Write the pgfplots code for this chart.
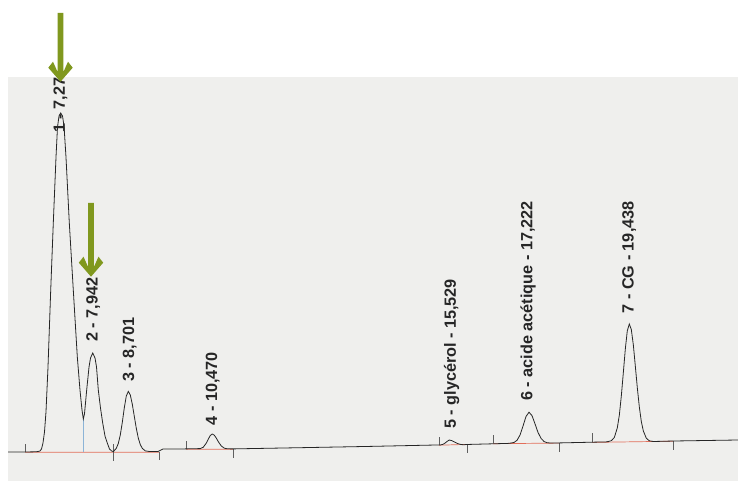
\documentclass[border=0pt]{standalone}
\usepackage{pgfplots}
\pgfplotsset{compat=1.18}
\usepackage{pgfplotstable}
\usepackage{fontspec}
\setmainfont{Liberation Sans}
\newfontfamily\lblfont{Liberation Sans}
\definecolor{paper}{RGB}{239,239,237}
\definecolor{arrowgreen}{RGB}{128,152,30}
\definecolor{tracec}{RGB}{38,38,38}
\definecolor{intred}{RGB}{226,110,90}
\definecolor{dropblue}{RGB}{140,180,215}
\definecolor{tickgray}{RGB}{95,95,95}

% retention time (min) / detector signal (arbitrary units)
\pgfplotstableread{
t s
6.123 0
6.486 0
6.721 0.2
6.763 0.5
6.806 1
6.838 3
6.870 9
6.902 20
6.934 40
6.977 85
7.035 162
7.090 229
7.148 295
7.180 325
7.212 336
7.248 339
7.287 336
7.319 326
7.361 295
7.432 229
7.517 162
7.603 95
7.660 62
7.703 42
7.731 33
7.756 38
7.803 62
7.853 85
7.885 94
7.932 99
7.981 94
8.013 85
8.051 62
8.098 44
8.145 29
8.194 16
8.243 9
8.290 3
8.337 1
8.376 0.4
8.393 1.5
8.436 3.7
8.478 8.5
8.521 17.1
8.564 29.7
8.606 44.1
8.649 56.0
8.692 60.6
8.734 57.1
8.777 47.8
8.820 35.6
8.863 23.6
8.905 13.9
8.948 7.4
8.991 3.6
9.055 1.1
9.155 0.4
9.326 0.5
9.433 3
9.796 3
10.229 3.4
10.293 4.8
10.357 8.9
10.400 12.9
10.443 16.5
10.485 18
10.528 16.8
10.571 13.9
10.614 10.3
10.678 6.0
10.742 3.8
10.806 3.2
10.927 3.1
12.358 4.3
13.853 5.6
15.363 7.1
15.412 7.7
15.455 8.9
15.497 10.5
15.546 12
15.604 11.3
15.668 9.7
15.732 8.3
15.796 7.5
15.860 7.2
15.903 7.5
16.800 8.6
16.864 8.95
16.928 9.55
16.992 11.7
17.056 16.9
17.120 25.9
17.184 35.5
17.248 39.8
17.312 36.4
17.376 28.2
17.440 19.6
17.505 13.6
17.569 10.5
17.633 9.3
17.718 8.9
17.910 9.1
18.893 10.1
18.942 10.5
19.006 11.3
19.070 14.5
19.134 24.2
19.177 36.9
19.219 55.8
19.262 79.2
19.305 103.1
19.347 121.2
19.390 128
19.433 122.4
19.476 107.1
19.518 86.1
19.561 64.2
19.604 45.0
19.646 30.6
19.689 21.1
19.753 13.8
19.817 11.2
19.903 10.5
20.345 11
21.711 12
}\tracedata

\begin{document}
\begin{tikzpicture}
\fill[white] (0,0) rectangle (738bp,481bp);
\fill[paper] (7.5bp,0) rectangle (738bp,404bp);
\begin{axis}[at={(0,0)}, anchor=south west, scale only axis,
  width=738bp, height=481bp,
  xmin=5.952, xmax=21.711, ymin=-29, ymax=452, hide axis]
% integration baselines
\addplot[intred, line width=0.7bp, unbounded coords=jump] coordinates {
 (6.486,-0.3) (9.347,-0.3) (9.347,nan)
 (9.924,2.8) (10.927,2.8) (10.927,nan)
 (15.326,6.8) (15.924,7.6) (15.924,nan)
 (16.480,8.3) (17.889,8.9) (17.889,nan)
 (18.594,9.6) (20.323,10.8)};
% drop line
\addplot[dropblue, line width=0.7bp] coordinates {(7.731,0) (7.731,33)};
% peak start / end marks
\addplot[tickgray, line width=0.6bp, unbounded coords=jump] coordinates {
 (6.486,0) (6.486,8) (6.486,nan)
 (9.924,3) (9.924,11) (9.924,nan)
 (15.326,7) (15.326,15) (15.326,nan)
 (16.480,8.5) (16.480,17) (16.480,nan)
 (18.594,9.8) (18.594,19) (18.594,nan)
 (8.365,8) (8.365,-9) (8.365,nan)
 (9.347,0) (9.347,-8) (9.347,nan)
 (10.927,3) (10.927,-6) (10.927,nan)
 (15.924,8) (15.924,-1) (15.924,nan)
 (17.889,9) (17.889,0) (17.889,nan)
 (20.323,11) (20.323,2)};
% chromatogram trace
\addplot[tracec, line width=0.8bp] table[x=t, y=s] {\tracedata};
% peak labels
\begin{scope}[every node/.style={rotate=90, anchor=west, inner sep=0pt, text=tracec,
  font=\lblfont\bfseries\fontsize{16.3}{18}\selectfont}]
\node at (axis cs:7.244,319) {1 - 7,276};
\node at (axis cs:7.942,110) {2 - 7,942};
\node at (axis cs:8.722,70) {3 - 8,701};
\node at (axis cs:10.494,26.5) {4 - 10,470};
\node at (axis cs:15.597,23) {5 - glycérol - 15,529};
\node at (axis cs:17.227,51) {6 - acide acétique - 17,222};
\node at (axis cs:19.388,138.5) {7 - CG - 19,438};
\end{scope}
\end{axis}
% white margin above the paper
\fill[white] (0,404bp) rectangle (738bp,481bp);
% green arrows
\begin{scope}[x=1bp, y=1bp]
\fill[arrowgreen] (60.5,399.3) -- (48.3,413.3) -- (53,419.3) -- (57.7,408.8) -- (57.7,468)
  -- (63.3,468) -- (63.3,408.8) -- (68,419.3) -- (72.7,413.3) -- cycle;
\fill[arrowgreen] (91,204.3) -- (78.8,218.3) -- (83.5,224.3) -- (88.2,213.8) -- (88.2,278)
  -- (93.8,278) -- (93.8,213.8) -- (98.5,224.3) -- (103.2,218.3) -- cycle;
\end{scope}
\end{tikzpicture}
\end{document}
